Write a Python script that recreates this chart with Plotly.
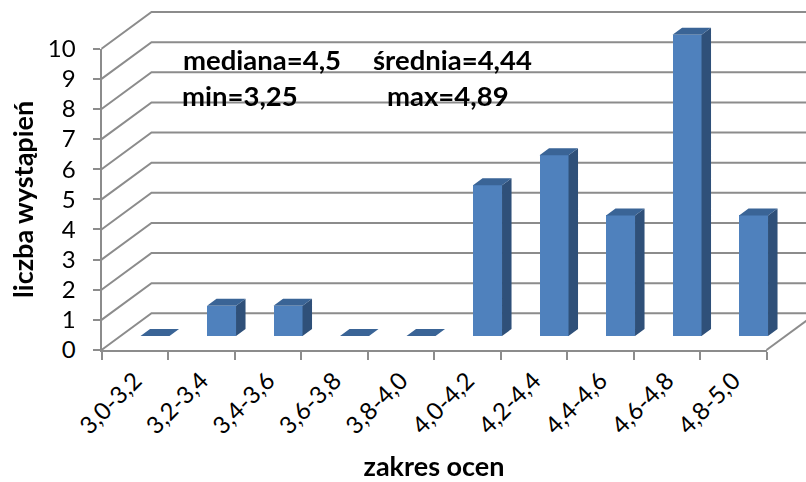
import plotly.graph_objects as go

categories = ["3,0-3,2", "3,2-3,4", "3,4-3,6", "3,6-3,8", "3,8-4,0",
              "4,0-4,2", "4,2-4,4", "4,4-4,6", "4,6-4,8", "4,8-5,0"]
counts = [0, 1, 1, 0, 0, 5, 6, 4, 10, 4]
y_ticks = list(range(0, 11))
stats_labels = ["mediana=4,5", "średnia=4,44", "min=3,25", "max=4,89"]

W, H = 806, 482
X0, X1, Y0, Y10 = 101.5, 766.5, 350.0, 48.7
PX_X = (X1 - X0) / 10
PX_Y = (Y0 - Y10) / 10
GRID = "#8c8c8c"
TXT = "#000000"
FONT = "Lato, Carlito, Calibri, sans-serif"


def ux(px):
    return (px - X0) / PX_X


def uy(px):
    return (Y0 - px) / PX_Y


# oblique depth of the 3-D box, in data units
DX, DY = 50 / PX_X, 36.7 / PX_Y
BAR_W = 29 / PX_X
BAR_SHIFT = 0.305
BAR_BASE = 14 / PX_Y
BAR_DX, BAR_DY = 9.5 / PX_X, 7 / PX_Y
RIGHT = ux(W + 2)

fig = go.Figure()

# native axes (ticks, labels, titles)
fig.add_trace(go.Scatter(x=[0, 10], y=[0, 10], mode="markers", opacity=0,
                         hoverinfo="skip", showlegend=False, xaxis="x", yaxis="y"))

# walls: gridlines running back and along the rear wall
gx, gy = [], []
for t in y_ticks:
    gx += [0, DX, RIGHT, None]
    gy += [t, t + DY, t + DY, None]
gx += [10, 10 + DX, None]
gy += [0, DY, None]
fig.add_trace(go.Scatter(x=gx, y=gy, mode="lines", line=dict(color=GRID, width=2),
                         hoverinfo="skip", showlegend=False, xaxis="x2", yaxis="y2"))

# bars: front faces (own overlay so that they cover the wall lines)
centers = [i + 0.5 + BAR_SHIFT for i in range(len(counts))]
fig.add_trace(go.Bar(x=centers, y=counts, base=[BAR_BASE] * len(counts), width=BAR_W,
                     marker=dict(color="#4f81bd", line=dict(width=0)),
                     showlegend=False, hoverinfo="skip", xaxis="x3", yaxis="y3"))

# bars: side and top faces
sx, sy, tx, ty = [], [], [], []
for c, v in zip(centers, counts):
    l, r = c - BAR_W / 2, c + BAR_W / 2
    b, t = BAR_BASE, BAR_BASE + v
    if v > 0:
        sx += [r, r + BAR_DX, r + BAR_DX, r, r, None]
        sy += [b, b + BAR_DY, t + BAR_DY, t, b, None]
    tx += [l, l + BAR_DX, r + BAR_DX, r, l, None]
    ty += [t, t + BAR_DY, t + BAR_DY, t, t, None]
fig.add_trace(go.Scatter(x=sx, y=sy, mode="lines", fill="toself", fillcolor="#2f5079",
                         line=dict(width=0, color="#2f5079"), hoverinfo="skip",
                         showlegend=False, xaxis="x3", yaxis="y3"))
fig.add_trace(go.Scatter(x=tx, y=ty, mode="lines", fill="toself", fillcolor="#3a6496",
                         line=dict(width=0, color="#3a6496"), hoverinfo="skip",
                         showlegend=False, xaxis="x3", yaxis="y3"))

full_x = dict(domain=[0, 1], range=[ux(0), ux(W)], visible=False)
full_y = dict(domain=[0, 1], range=[uy(H), uy(0)], visible=False)

fig.update_layout(
    width=W, height=H, margin=dict(l=0, r=0, t=0, b=0),
    paper_bgcolor="white", plot_bgcolor="rgba(0,0,0,0)",
    font=dict(family=FONT, color=TXT), bargap=0, showlegend=False,
    xaxis=dict(domain=[X0 / W, X1 / W], range=[0, 10], anchor="y", automargin=False,
               tickmode="array", tickvals=[i + 0.5 for i in range(10)], ticktext=categories,
               tickangle=-45, ticks="", tickfont=dict(size=24, family=FONT), ticklabelstandoff=5,
               showgrid=False, zeroline=False, showline=True, linecolor=GRID, linewidth=2,
               minor=dict(tickmode="array", tickvals=list(range(11)), ticks="outside",
                          ticklen=8, tickwidth=2, tickcolor=GRID),
               title=dict(text="<b>zakres ocen</b>", font=dict(size=27, family=FONT), standoff=32)),
    yaxis=dict(domain=[(H - Y0) / H, (H - Y10) / H], range=[0, 10], anchor="x", automargin=False,
               tickmode="array", tickvals=y_ticks, ticks="outside", ticklen=7, tickwidth=2,
               tickcolor=GRID, tickfont=dict(size=24, family=FONT), ticklabelstandoff=12,
               showgrid=False, zeroline=False, showline=True, linecolor=GRID, linewidth=2,
               title=dict(text="<b>liczba wystąpień</b>", font=dict(size=27, family=FONT), standoff=6)),
    xaxis2=dict(anchor="y2", **full_x),
    yaxis2=dict(anchor="x2", **full_y),
    xaxis3=dict(anchor="y3", **full_x),
    yaxis3=dict(anchor="x3", **full_y),
)

positions = [(262, 59), (452, 59), (239.5, 95), (447.5, 95)]
for s, (px, py) in zip(stats_labels, positions):
    fig.add_annotation(x=ux(px), y=uy(py), xref="x3", yref="y3", text=f"<b>{s}</b>",
                       showarrow=False, font=dict(size=27.5, family=FONT, color=TXT))

fig.write_html("out.html", post_script='document.body.style.margin="0";',
               config=dict(displayModeBar=False))
